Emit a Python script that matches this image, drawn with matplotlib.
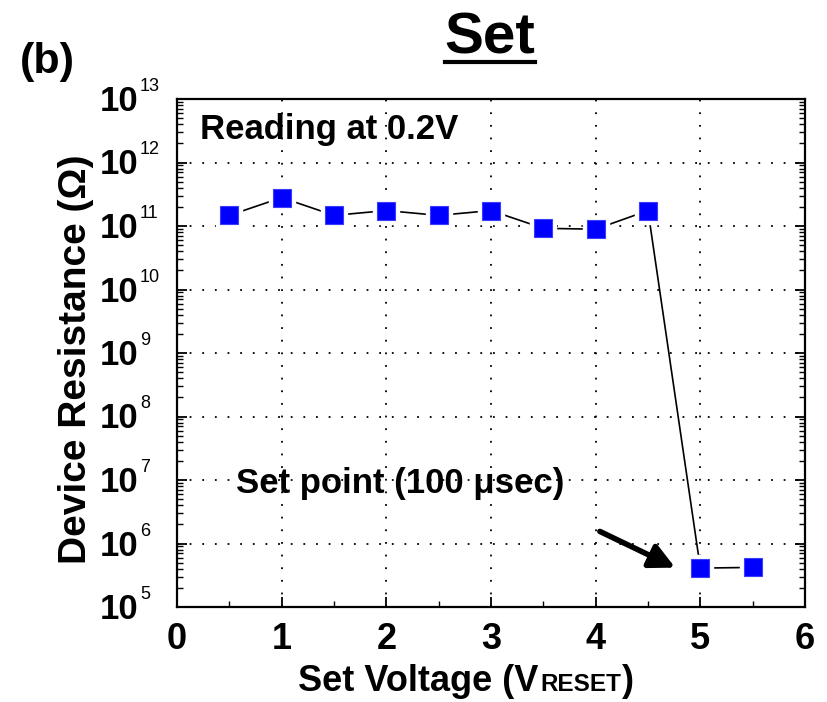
import matplotlib
matplotlib.use('Agg')
import matplotlib.pyplot as plt
from matplotlib.transforms import blended_transform_factory, offset_copy
from matplotlib.lines import Line2D
from matplotlib.ticker import LogLocator, MultipleLocator, FixedLocator, NullFormatter

# ---- data ----
set_voltage = [0.5, 1.0, 1.5, 2.0, 2.5, 3.0, 3.5, 4.0, 4.5, 5.0, 5.5]
resistance = [1.47e11, 2.8e11, 1.47e11, 1.75e11, 1.47e11, 1.75e11,
              9.2e10, 8.9e10, 1.75e11, 4.1e5, 4.2e5]
x_ticks = [0, 1, 2, 3, 4, 5, 6]
x_tick_labels = ['0', '1', '2', '3', '4', '5', '6']
y_exponents = [5, 6, 7, 8, 9, 10, 11, 12, 13]

plt.rcParams['font.family'] = ['Liberation Sans', 'DejaVu Sans']

W, H = 827, 702
fig = plt.figure(figsize=(W / 100, H / 100), dpi=100)
ax = fig.add_axes([177 / W, (H - 607) / H, (805 - 177) / W, (607 - 99) / H])
ax.set_yscale('log')
ax.set_xlim(0, 6)
ax.set_ylim(1e5, 1e13)

# line + gap halo + markers
ax.plot(set_voltage, resistance, color='black', lw=1.2, zorder=3)
ax.plot(set_voltage, resistance, ls='none', marker='s', ms=19,
        mfc='white', mec='white', zorder=4)
ax.plot(set_voltage, resistance, ls='none', marker='s', ms=13.3,
        mfc='#0000ff', mec='#3c3cff', mew=0.8, zorder=5)

# grid
ax.grid(True, which='major', color='black', linestyle=(0, (1, 6)), linewidth=1.3)
ax.set_axisbelow(False)
for gl in ax.get_xgridlines() + ax.get_ygridlines():
    gl.set_zorder(1)

# ticks
ax.xaxis.set_major_locator(FixedLocator(x_ticks))
ax.xaxis.set_minor_locator(MultipleLocator(0.5))
ax.set_xticklabels(x_tick_labels)
ax.yaxis.set_major_locator(FixedLocator([10.0 ** e for e in y_exponents]))
ax.yaxis.set_minor_locator(LogLocator(base=10, subs=range(2, 10), numticks=20))
ax.yaxis.set_minor_formatter(NullFormatter())
ax.tick_params(axis='both', which='major', direction='in', length=7, width=1.3)
ax.tick_params(axis='both', which='minor', direction='in', length=4, width=1.0)
ax.tick_params(axis='y', which='both', right=True, labelleft=False)
ax.tick_params(axis='x', which='major', pad=11, labelsize=26)
for lbl in ax.get_xticklabels():
    lbl.set_fontweight('bold')
for sp in ax.spines.values():
    sp.set_linewidth(1.6)

# custom y tick labels 10^n
trans = blended_transform_factory(ax.transAxes, ax.transData)
for e in y_exponents:
    t_base = offset_copy(trans, fig=fig, x=-39, y=-12, units='dots')
    ax.text(0, 10.0 ** e, '10', transform=t_base, ha='right', va='baseline',
            fontsize=25, fontweight='bold', clip_on=False)
    t_exp = offset_copy(trans, fig=fig, x=-37, y=8, units='dots')
    ax.text(0, 10.0 ** e, str(e), transform=t_exp, ha='left', va='baseline',
            fontsize=13, clip_on=False)

# annotations
ax.text(0.22, 10 ** 12.52, 'Reading at 0.2V', fontsize=25, fontweight='bold',
        ha='left', va='center', zorder=6)
ax.text(0.565, 10 ** 6.95, 'Set point (100 \u03bcsec)', fontsize=25,
        fontweight='bold', ha='left', va='center', zorder=6)
ax.annotate('', xy=(4.76, 10 ** 5.62), xytext=(4.04, 10 ** 6.19),
            arrowprops=dict(arrowstyle='-|>,head_length=0.5,head_width=0.25',
                            color='black', lw=4, mutation_scale=30,
                            shrinkA=0, shrinkB=0), zorder=6)

# labels
fig.text(76 / W, (H - 359) / H, 'Device Resistance (\u03a9)', rotation=90,
         ha='center', va='center', fontsize=28, fontweight='bold')
title = fig.text(490 / W, (H - 53) / H, 'Set', ha='center', va='baseline',
                 fontsize=42, fontweight='bold')
fig.text(20 / W, (H - 73) / H, '(b)', ha='left', va='baseline',
         fontsize=31, fontweight='bold')

yb = (H - 691) / H
t1 = fig.text(298 / W, yb, 'Set Voltage (V', ha='left', va='baseline',
              fontsize=26, fontweight='bold')
fig.canvas.draw()
r = fig.canvas.get_renderer()
bb1 = t1.get_window_extent(renderer=r)
t2 = fig.text(bb1.x1 / W + 0.002, yb, 'RESET', ha='left', va='baseline',
              fontsize=17.5, fontweight='bold')
fig.canvas.draw()
bb2 = t2.get_window_extent(renderer=r)
fig.text(bb2.x1 / W + 0.001, yb, ')', ha='left', va='baseline',
         fontsize=26, fontweight='bold')

# underline of title
bbt = title.get_window_extent(renderer=r)
fig.add_artist(Line2D([bbt.x0 / W, bbt.x1 / W], [(H - 62) / H, (H - 62) / H],
                      transform=fig.transFigure, color='black', lw=3))

fig.savefig('out.png', dpi=100)
